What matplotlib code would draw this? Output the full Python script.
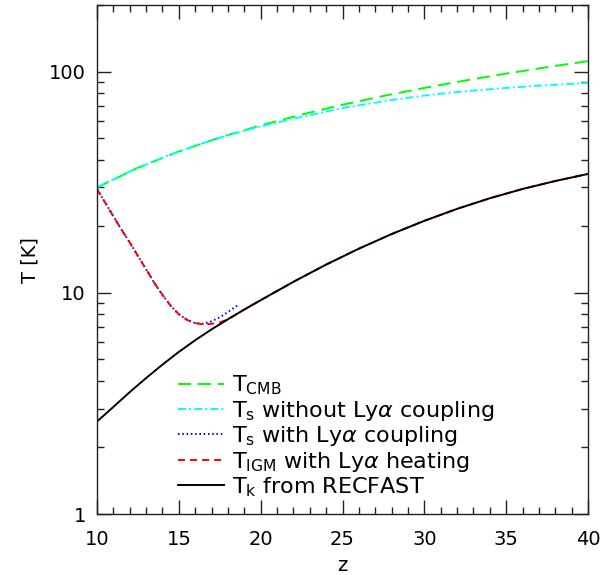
import matplotlib
matplotlib.use("Agg")
import matplotlib.pyplot as plt
from matplotlib.ticker import FixedLocator, NullFormatter, FixedFormatter, LogLocator

plt.rcParams['font.family'] = ['DejaVu Sans']
plt.rcParams['mathtext.fontset'] = 'dejavusans'

# T_CMB
z_cmb = [10, 12.5, 15, 17.5, 20, 22.5, 25, 27.5, 30, 32.5, 35, 37.5, 40]
t_cmb = [29.98, 36.8, 43.6, 50.4, 57.2, 64.0, 70.9, 77.7, 84.5, 91.3, 98.1, 104.9, 111.7]

# T_s without Lya coupling
z_ts0 = [10, 12, 14, 16, 18, 20, 22, 25, 28, 30, 32, 35, 37, 40]
t_ts0 = [30.0, 35.4, 40.9, 46.3, 51.7, 56.6, 61.3, 68.5, 74.5, 78.0, 81.0, 84.5, 86.5, 89.0]

# T_s with Lya coupling
z_ts1 = [10, 10.5, 11, 11.5, 12, 12.5, 13, 13.5, 14, 14.5, 15, 15.5, 16, 16.5, 17, 17.5, 18, 18.6]
t_ts1 = [29.5, 25.6, 22.2, 19.3, 16.9, 14.7, 12.8, 11.1, 9.8, 8.75, 8.0, 7.55, 7.3, 7.25, 7.45, 7.75, 8.2, 8.8]

# T_IGM with Lya heating
z_igm = [10, 10.5, 11, 11.5, 12, 12.5, 13, 13.5, 14, 14.5, 15, 15.5, 16, 16.5, 17, 17.5, 18, 19, 20,
         22, 24, 26, 28, 30, 32, 34, 36, 38, 40]
t_igm = [29.5, 25.6, 22.2, 19.3, 16.9, 14.7, 12.8, 11.1, 9.8, 8.75, 8.0, 7.55, 7.3, 7.2, 7.25, 7.35, 7.6, 8.41, 9.27,
         11.22, 13.43, 15.85, 18.45, 21.18, 23.99, 26.79, 29.51, 32.06, 34.51]

# T_k from RECFAST
z_k = [10, 11, 12, 13, 14, 15, 16, 17, 18, 19, 20, 22, 24, 26, 28, 30, 32, 34, 36, 38, 40]
t_k = [2.62, 3.05, 3.56, 4.12, 4.74, 5.41, 6.11, 6.84, 7.60, 8.41, 9.27, 11.22, 13.43, 15.85, 18.45, 21.18,
       23.99, 26.79, 29.51, 32.06, 34.51]

labels = [r"T$_{\mathrm{CMB}}$",
          r"T$_{\mathrm{s}}$ without Ly$\alpha$ coupling",
          r"T$_{\mathrm{s}}$ with Ly$\alpha$ coupling",
          r"T$_{\mathrm{IGM}}$ with Ly$\alpha$ heating",
          r"T$_{\mathrm{k}}$ from RECFAST"]

fig = plt.figure(figsize=(6.1, 5.75), dpi=100)
ax = fig.add_axes([0.159, 0.106, 0.805, 0.885])

lw = 1.4
ax.plot(z_cmb, t_cmb, color='#00ff00', lw=lw, dashes=(6.7, 3.5), label=labels[0])
ax.plot(z_ts0, t_ts0, color='#00ffff', lw=lw, dashes=(4.1, 1.6, 1.0, 1.6), label=labels[1])
ax.plot(z_ts1, t_ts1, color='#0000ff', lw=lw, dashes=(0.8, 1.4), label=labels[2])
ax.plot(z_igm, t_igm, color='#ff0000', lw=lw, dashes=(3.6, 2.6), label=labels[3])
ax.plot(z_k, t_k, color='black', lw=lw, label=labels[4])

ax.set_yscale('log')
ax.set_xlim(10, 40)
ax.set_ylim(1, 200)

ax.set_xticks([10, 15, 20, 25, 30, 35, 40])
ax.set_xticks(list(range(10, 41)), minor=True)
ax.yaxis.set_major_locator(FixedLocator([1, 10, 100]))
ax.yaxis.set_major_formatter(FixedFormatter(['1', '10', '100']))
ax.yaxis.set_minor_locator(LogLocator(base=10, subs=(2, 3, 4, 5, 6, 7, 8, 9)))
ax.yaxis.set_minor_formatter(NullFormatter())

ax.tick_params(which='both', direction='in', top=True, right=True, width=1.0, labelsize=14, color='#222222')
ax.tick_params(which='major', length=10)
ax.tick_params(which='minor', length=5)
ax.tick_params(axis='x', which='major', pad=11.5)
ax.tick_params(axis='y', which='major', pad=8)
for s in ax.spines.values():
    s.set_linewidth(1.0)
    s.set_color('#222222')

ax.set_xlabel('z', fontsize=14, labelpad=5)
ax.set_ylabel('T [K]', fontsize=14, labelpad=6.5)

leg = ax.legend(loc='lower left', bbox_to_anchor=(0.165, 0.03), frameon=False, fontsize=16,
                handlelength=2.05, handletextpad=0.4, labelspacing=0.07, borderpad=0.0,
                borderaxespad=0.0)

fig.savefig('out.png', dpi=100)
